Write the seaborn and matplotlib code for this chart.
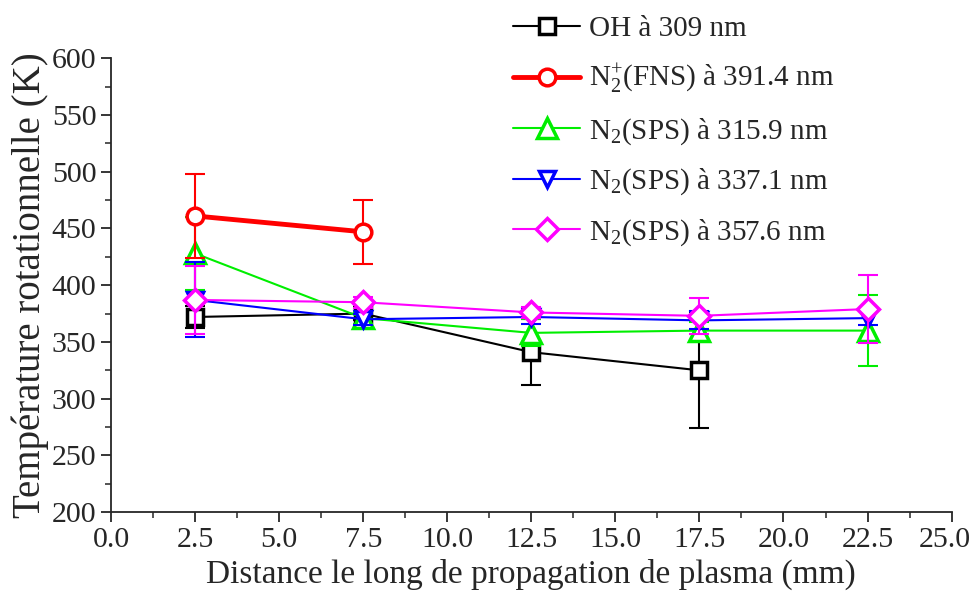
import numpy as np
import pandas as pd
import seaborn as sns
import matplotlib.pyplot as plt
from matplotlib.transforms import ScaledTranslation

# distances (mm)
dist = [2.5, 7.5, 12.5, 17.5, 22.5]

oh_309 = [372, 375, 341, 325]
oh_309_err = [10, 6, 29, 51]
n2p_391 = [461, 447]
n2p_391_err = [37, 28]
n2_315 = [428, 371, 358, 360, 360]
n2_315_err = [32, 5, 12, 8, 31]
n2_337 = [387, 370, 372, 369, 371]
n2_337_err = [33, 5, 6, 8, 6]
n2_357 = [387, 385, 376, 373, 379]
n2_357_err = [30, 5, 5, 16, 30]

labels = ["OH à 309 nm",
          r"N$_2^{+}$(FNS) à 391.4 nm",
          r"N$_2$(SPS) à 315.9 nm",
          r"N$_2$(SPS) à 337.1 nm",
          r"N$_2$(SPS) à 357.6 nm"]

series = [
    (oh_309, oh_309_err, "black", "s", 1.5, 12),
    (n2p_391, n2p_391_err, "red", "o", 3.5, 12),
    (n2_315, n2_315_err, "#00ee00", "^", 1.5, 15),
    (n2_337, n2_337_err, "blue", "v", 1.5, 12),
    (n2_357, n2_357_err, "magenta", "D", 1.5, 11),
]
zorders = [2, 6, 3, 4, 5]

sns.set_style("ticks")
plt.rcParams['font.family'] = ['Liberation Serif', 'DejaVu Serif']
plt.rcParams['mathtext.fontset'] = 'custom'
plt.rcParams['mathtext.rm'] = 'Liberation Serif'
plt.rcParams['mathtext.it'] = 'Liberation Serif:italic'

fig, ax = plt.subplots(figsize=(9.74, 6.12), dpi=100)
fig.subplots_adjust(left=0.114, right=0.977, bottom=0.163, top=0.905)

handles = []
for (vals, errs, col, mk, lw, ms), lab, z in zip(series, labels, zorders):
    x = dist[:len(vals)]
    df = pd.DataFrame({"x": x, "y": vals})
    ax.errorbar(x, vals, yerr=errs, fmt="none", ecolor=col, elinewidth=1.5,
                capsize=7, capthick=1.5, zorder=z)
    sns.lineplot(data=df, x="x", y="y", ax=ax, color=col, linewidth=lw,
                 marker=mk, markersize=ms, markerfacecolor="white",
                 markeredgecolor=col, markeredgewidth=2.5, zorder=z + 0.5)
    handles.append(ax.lines[-1])

ax.set_xlim(0, 25)
ax.set_ylim(200, 600)
ax.set_xticks(np.arange(0, 25.1, 2.5))
ax.set_xticklabels([f"{v:.1f}" for v in np.arange(0, 25.1, 2.5)])
ax.set_yticks(np.arange(200, 601, 50))
ax.set_xticks(np.arange(1.25, 25, 2.5), minor=True)
ax.set_yticks(np.arange(225, 600, 50), minor=True)
ax.tick_params(axis="both", which="major", labelsize=21.5, length=7, width=1.3, direction="out")
ax.tick_params(axis="both", which="minor", length=4, width=1.1, direction="out")
for s in ["left", "bottom"]:
    ax.spines[s].set_linewidth(1.3)
sns.despine(ax=ax)

# keep the last x tick label inside the figure
last = ax.get_xticklabels()[-1]
last.set_transform(last.get_transform() + ScaledTranslation(-5 / 72, 0, fig.dpi_scale_trans))

ax.set_xlabel("Distance le long de propagation de plasma (mm)", fontsize=24, labelpad=4)
ax.set_ylabel("Température rotationnelle (K)", fontsize=28, labelpad=2)

fig.legend(handles, labels, loc="upper left", bbox_to_anchor=(0.515, 0.993),
           frameon=False, fontsize=21, handlelength=2.3, labelspacing=0.68,
           handletextpad=0.3, borderaxespad=0)

fig.savefig("out.png", dpi=100)
